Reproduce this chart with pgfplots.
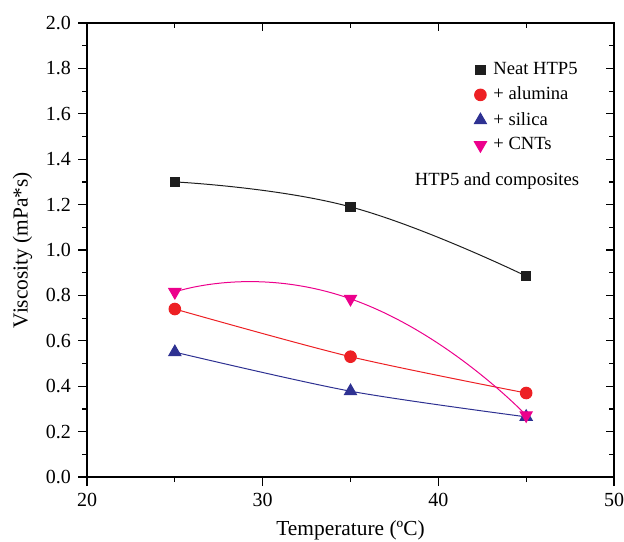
\documentclass[border=0pt]{standalone}
\usepackage{fontspec}
\setmainfont{Liberation Serif}
\usepackage{pgfplots}
\pgfplotsset{compat=1.18}
\usetikzlibrary{calc}
\definecolor{cblack}{RGB}{30,30,30}
\definecolor{cred}{RGB}{237,32,36}
\definecolor{cblue}{RGB}{46,49,146}
\definecolor{cmag}{RGB}{236,0,140}

\begin{document}
\begin{tikzpicture}
\pgfplotsset{
  base/.style={
    scale only axis, width=263.5pt, height=227pt,
    xmin=20, xmax=50, ymin=0, ymax=2.0,
    xtick={20,30,40,50}, ytick={0,0.2,...,2.0},
    minor x tick num=1, minor y tick num=1,
    axis line style={line width=0.8pt},
    every tick/.style={line width=0.6pt, black},
    /pgf/number format/assume math mode=true,
  }
}
\begin{axis}[base, name=main,
  tick align=outside, xtick pos=bottom, ytick pos=left,
  major tick length=4.5pt, minor tick length=2.5pt,
  ticklabel style={font=\fontsize{10}{12}\selectfont},
  xticklabel={\pgfmathprintnumber{\tick}},
  yticklabel={\pgfmathprintnumber[fixed,precision=1,zerofill]{\tick}},
  xlabel={Temperature (ºC)}, ylabel={Viscosity (mPa*s)},
  label style={font=\fontsize{10.7}{13}\selectfont},
  legend style={draw=none, fill=none, at={(rel axis cs:0.7325,0.923)}, anchor=north west,
    font=\fontsize{9.3}{11}\selectfont, row sep=0.7pt, inner sep=0pt,
    cells={anchor=west}},
  legend image code/.code={\path[draw=none,fill=none] (-3.5pt,0pt) rectangle (4.5pt,0pt);
    \draw[#1] plot coordinates {(0pt,0pt)};},
]
\addplot[cblack, line width=0.5pt, smooth, tension=0.75, mark=square*, mark size=2.35pt,
  mark options={solid}] coordinates {(25,1.30) (35,1.19) (45,0.885)};
\addplot[cred, line width=0.5pt, smooth, mark=*, mark size=2.9pt]
  coordinates {(25,0.74) (35,0.53) (45,0.37)};
\addplot[cblue, line width=0.5pt, smooth, mark=triangle*, mark size=3.5pt]
  coordinates {(25,0.55) (35,0.378) (45,0.265)};
\addplot[cmag, line width=0.5pt, smooth, tension=1.0, mark=triangle*, mark size=3.5pt,
  mark options={rotate=180}] coordinates {(25,0.815) (35,0.785) (45,0.272)};
\legend{Neat HTP5, + alumina, + silica, + CNTs}
\node[font=\fontsize{9.3}{11}\selectfont] at (rel axis cs:0.778,0.652) {HTP5 and composites};
\end{axis}
\begin{axis}[base,
  tick align=inside, xtick pos=top, ytick pos=right,
  major tick length=4pt, minor tick length=2.3pt,
  xticklabels={}, yticklabels={},
]
\end{axis}
\pgfresetboundingbox
\path (main.south west) ++(-43.5pt,-32pt) rectangle ($(main.north east)+(5pt,11.5pt)$);
\end{tikzpicture}
\end{document}
